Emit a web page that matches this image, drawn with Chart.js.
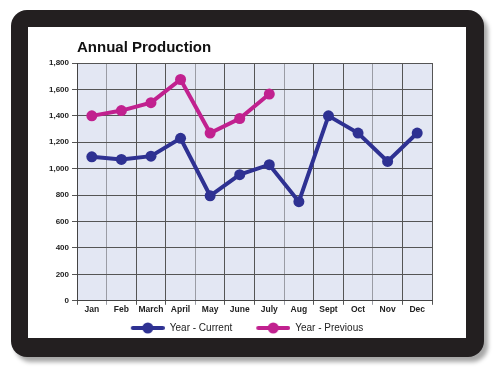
<!DOCTYPE html>
<html>
<head>
<meta charset="utf-8">
<script src="https://cdn.jsdelivr.net/npm/chart.js@4"></script>
<style>
  html, body { margin: 0; padding: 0; background: #fff; }
  #frame {
    position: absolute; left: 11px; top: 10px; width: 473px; height: 347px;
    background: #231f20; border-radius: 16px;
    box-shadow: 4px 5px 4px rgba(0,0,0,0.35);
  }
  #inner {
    position: absolute; left: 17px; top: 17px; width: 438px; height: 311px;
    background: #fff;
  }
  canvas { display: block; position: absolute; left: 0; top: 0; }
</style>
</head>
<body>
<div id="frame"><div id="inner"><canvas id="chart" width="438" height="320"></canvas></div></div>
<script>
// dữ liệu biểu đồ
const months = ["Jan", "Feb", "March", "April", "May", "June", "July", "Aug", "Sept", "Oct", "Nov", "Dec"];
const currentYear = [1090, 1070, 1095, 1230, 795, 955, 1030, 750, 1400, 1270, 1055, 1270];
const previousYear = [1400, 1440, 1500, 1675, 1270, 1380, 1565];
const yTicks = [0, 200, 400, 600, 800, 1000, 1200, 1400, 1600, 1800];

const blue = "#2e3192";
const pink = "#c1218f";

// tô nền vùng vẽ
const plotBackground = {
    id: "plotBackground",
    beforeDraw(chart) {
        const a = chart.chartArea;
        const ctx = chart.ctx;
        ctx.save();
        ctx.fillStyle = "#e3e7f3";
        ctx.fillRect(a.left, a.top, a.right - a.left, a.bottom - a.top);
        ctx.restore();
    }
};

// kí hiệu chú thích: đường + chấm tròn (chừa khoảng trống bên trái)
const markerGap = 16;
function legendMarker(color) {
    const c = document.createElement("canvas");
    c.width = 34 + markerGap; c.height = 12;
    const g = c.getContext("2d");
    g.strokeStyle = color; g.lineWidth = 4; g.lineCap = "round";
    g.beginPath(); g.moveTo(markerGap + 2, 6); g.lineTo(markerGap + 32, 6); g.stroke();
    g.fillStyle = color;
    g.beginPath(); g.arc(markerGap + 17, 6, 5.5, 0, Math.PI * 2); g.fill();
    return c;
}
const markers = [legendMarker(blue), legendMarker(pink)];

const font = "'Liberation Sans', Arial, Helvetica, sans-serif";

new Chart(document.getElementById("chart"), {
    type: "line",
    data: {
        labels: months,
        datasets: [{
            label: "Year - Current",
            data: currentYear,
            borderColor: blue,
            backgroundColor: blue,
            borderWidth: 4,
            pointRadius: 5.5,
            pointBorderWidth: 0,
            tension: 0
        }, {
            label: "Year - Previous",
            data: previousYear,
            borderColor: pink,
            backgroundColor: pink,
            borderWidth: 4,
            pointRadius: 5.5,
            pointBorderWidth: 0,
            tension: 0
        }]
    },
    options: {
        responsive: false,
        animation: false,
        layout: { padding: { left: 18, right: 34, top: 6, bottom: 4 } },
        plugins: {
            title: {
                display: true,
                text: "Annual Production",
                align: "start",
                fullSize: false,
                color: "#111",
                font: { family: font, size: 15, weight: "bold" },
                padding: { top: 6, bottom: 6 }
            },
            legend: {
                position: "bottom",
                labels: {
                    usePointStyle: true,
                    pointStyleWidth: 34 + markerGap,
                    color: "#222",
                    padding: 8,
                    font: { family: font, size: 10 },
                    generateLabels(chart) {
                        const items = Chart.defaults.plugins.legend.labels.generateLabels(chart);
                        items.forEach((it, i) => { it.pointStyle = markers[i]; });
                        return items;
                    }
                }
            },
            tooltip: { enabled: false }
        },
        scales: {
            x: {
                offset: true,
                grid: {
                    offset: true,
                    tickLength: 4,
                    color: ctx => (ctx.index % 3 === 1 ? "#9a9ca4" : "#555"),
                    lineWidth: 1
                },
                border: { color: "#444", width: 1 },
                ticks: {
                    color: "#222",
                    padding: 0,
                    font: { family: font, size: 8.5, weight: "bold" },
                    maxRotation: 0,
                    autoSkip: false
                }
            },
            y: {
                min: 0,
                max: 1800,
                afterBuildTicks(axis) { axis.ticks = yTicks.map(v => ({ value: v })); },
                grid: { color: "#555", lineWidth: 1, tickLength: 5 },
                border: { color: "#444", width: 1 },
                ticks: {
                    color: "#222",
                    padding: 3,
                    font: { family: font, size: 8, weight: "bold" },
                    callback: v => v.toLocaleString("en-US")
                }
            }
        }
    },
    plugins: [plotBackground]
});
</script>
</body>
</html>
